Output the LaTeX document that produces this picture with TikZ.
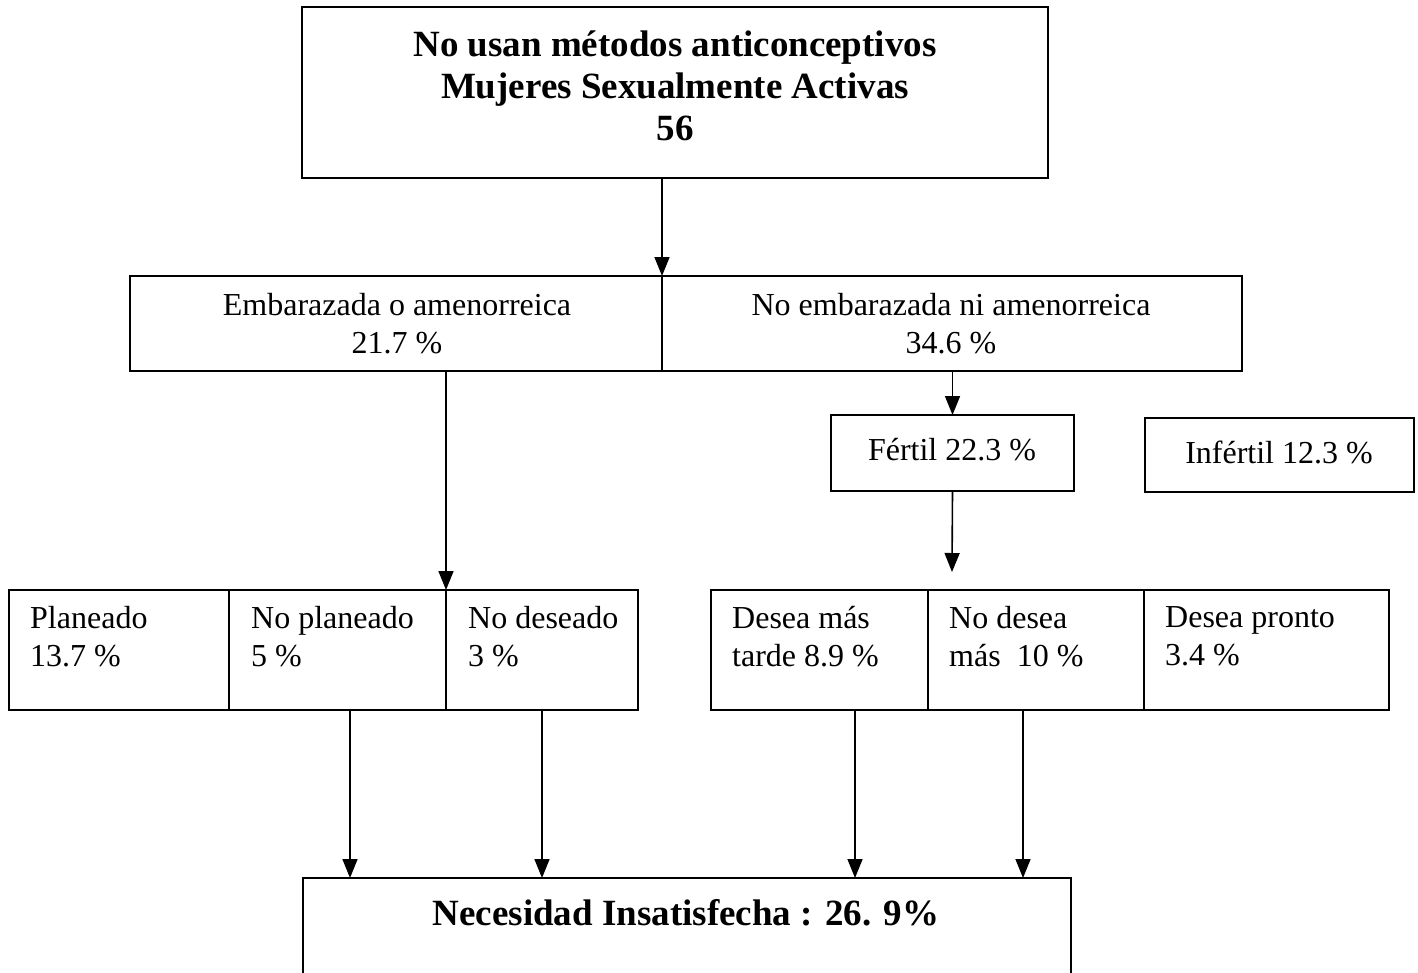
\documentclass[tikz,border=0pt]{standalone}
\usepackage{fontspec}
\setmainfont{Liberation Serif}
\usetikzlibrary{arrows.meta}
\tikzset{
 box/.style={draw, line width=1.6pt, inner sep=0pt, outer sep=0pt},
 lbl/.style={font=\fontsize{32}{38}\selectfont, inner sep=0pt, align=left, anchor=north west},
 ctr/.style={font=\fontsize{32}{38}\selectfont, inner sep=0pt, align=center},
 bold/.style={font=\fontsize{37}{42}\selectfont\bfseries, inner sep=0pt, align=center},
 arr/.style={-{Triangle[length=19pt,width=15pt]}, line width=1.6pt}
}
\begin{document}
\begin{tikzpicture}[x=1pt,y=-1pt]
\useasboundingbox (0,0) rectangle (1418,972);
\clip (0,0) rectangle (1418,972);
\fill[white] (0,0) rectangle (1418,972);
% top
\node[box, minimum width=746pt, minimum height=171pt] (top) at (675,92.5) {};
\node[bold] (toptxt) at (675,86) {No usan métodos anticonceptivos\\Mujeres Sexualmente Activas\\56};
% middle
\node[box, minimum width=532pt, minimum height=95pt] (midL) at (396,323.5) {};
\node[box, minimum width=580pt, minimum height=95pt] (midR) at (952,323.5) {};
\node[ctr] (midLt) at (397,324) {Embarazada o amenorreica\\21.7 \%};
\node[ctr] (midRt) at (951,324) {No embarazada ni amenorreica\\34.6 \%};
% fertil
\node[box, minimum width=243pt, minimum height=76pt] (fert) at (952.5,453) {};
\node[ctr] (fertt) at (952,450) {Fértil 22.3 \%};
\node[box, minimum width=269pt, minimum height=74pt] (infert) at (1279.5,455) {};
\node[ctr] (infertt) at (1279,452) {Infértil 12.3 \%};
% left group
\node[box, minimum width=220pt, minimum height=120pt] (c1) at (119,650) {};
\node[box, minimum width=217pt, minimum height=120pt] (c2) at (337.5,650) {};
\node[box, minimum width=192pt, minimum height=120pt] (c3) at (542,650) {};
\node[lbl] (c1t) at (30,606) {Planeado\\13.7 \%};
\node[lbl] (c2t) at (251,606) {No planeado\\5 \%};
\node[lbl] (c3t) at (468,606) {No deseado\\3 \%};
% right group
\node[box, minimum width=217pt, minimum height=120pt] (d1) at (819.5,650) {};
\node[box, minimum width=216pt, minimum height=120pt] (d2) at (1036,650) {};
\node[box, minimum width=245pt, minimum height=120pt] (d3) at (1266.5,650) {};
\node[lbl] (d1t) at (732,606) {Desea más\\tarde 8.9 \%};
\node[lbl] (d2t) at (949,606) {No desea\\más~~10 \%};
\node[lbl] (d3t) at (1165,606) {Desea pronto\\3.4 \%};
% bottom
\node[box, minimum width=768pt, minimum height=122pt] (bot) at (687,939) {};
\node[bold] (bott) at (686,913) {Necesidad Insatisfecha : 26. 9\%};
% connectors
\coordinate (xa) at (662,0);
\coordinate (fa) at (952,572);
\coordinate (x1) at (350,0);
\coordinate (x2) at (542,0);
\coordinate (x3) at (855,0);
\coordinate (x4) at (1023,0);
\draw[arr] (xa |- top.south) -- (midL.north east);
\draw[arr] (c2.east |- midL.south) -- (c2.north east);
\draw[arr] (fert.north |- midR.south) -- (fert.north);
\draw[arr] (fert.south) -- (fa);
\draw[arr] (x1 |- c2.south) -- (x1 |- bot.north);
\draw[arr] (x2 |- c3.south) -- (x2 |- bot.north);
\draw[arr] (x3 |- d1.south) -- (x3 |- bot.north);
\draw[arr] (x4 |- d2.south) -- (x4 |- bot.north);
\end{tikzpicture}
\end{document}
